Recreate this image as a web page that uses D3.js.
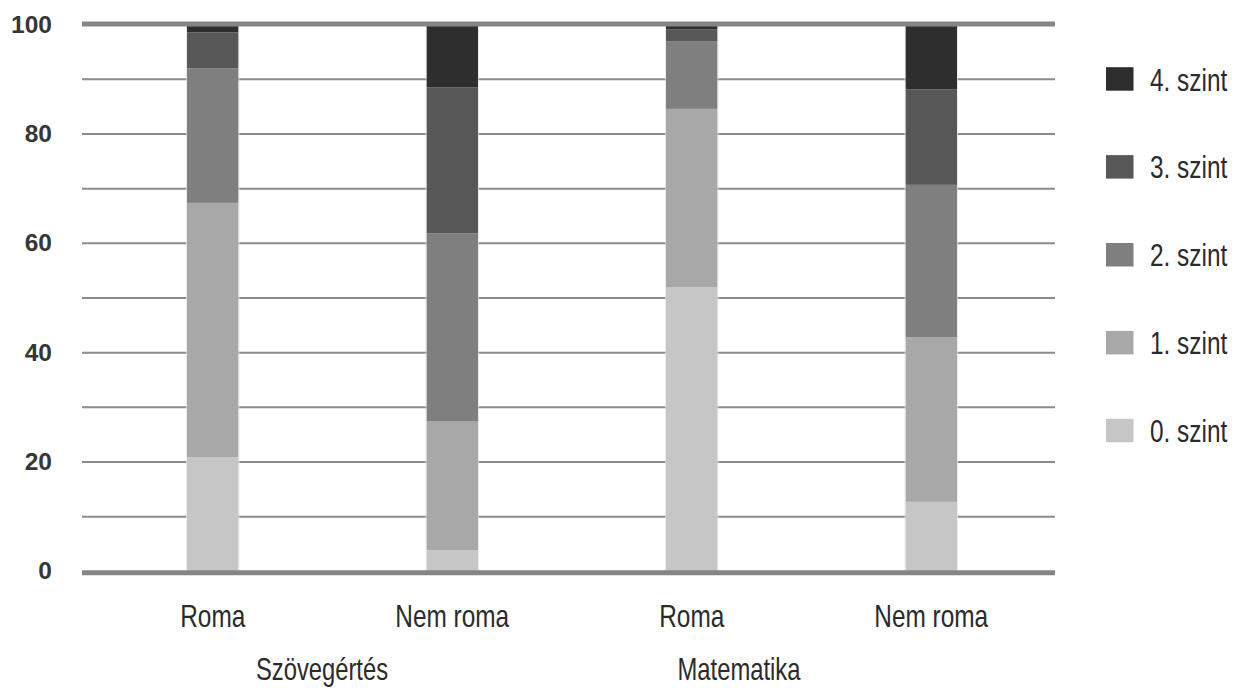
<!DOCTYPE html>
<html>
<head>
<meta charset="utf-8">
<script src="https://cdn.jsdelivr.net/npm/d3@7"></script>
<style>
  html, body { margin: 0; padding: 0; background: #ffffff; }
  svg { display: block; }
</style>
</head>
<body>
<svg id="chart" width="1234" height="688"></svg>
<script>
// Stacked shares (%) of proficiency levels by group and test area
const categories = ["Roma", "Nem roma", "Roma", "Nem roma"];
const groups = ["Szövegértés", "Matematika"];
const levels = ["0. szint", "1. szint", "2. szint", "3. szint", "4. szint"];
const level0 = [20.9, 3.9, 52.0, 12.7];
const level1 = [46.5, 23.5, 32.6, 30.1];
const level2 = [24.6, 34.4, 12.4, 27.9];
const level3 = [6.6, 26.7, 2.1, 17.5];
const level4 = [1.4, 11.5, 0.9, 11.8];
const yTicks = [0, 20, 40, 60, 80, 100];

const colors = ["#c6c6c6", "#a8a8a8", "#7f7f7f", "#575757", "#2e2e2e"];
const series = [level0, level1, level2, level3, level4];

const rows = categories.map((c, i) => {
  const r = { idx: i };
  levels.forEach((l, k) => { r[l] = series[k][i]; });
  return r;
});

const svg = d3.select("#chart");
const plotLeft = 82, plotRight = 1055;
const narrowFont = "'Liberation Sans Narrow', 'Arial Narrow', 'Liberation Sans', Arial, sans-serif";

const x = d3.scaleBand()
  .domain(d3.range(categories.length))
  .range([93, 1051])
  .paddingInner(0.785)
  .paddingOuter(0.3925);

const y = d3.scaleLinear().domain([0, 100]).range([571.3, 24.7]);

// gridlines every 10
const grid = svg.append("g");
grid.selectAll("line")
  .data(d3.range(10, 100, 10))
  .join("line")
  .attr("x1", plotLeft).attr("x2", plotRight)
  .attr("y1", d => y(d)).attr("y2", d => y(d))
  .attr("stroke", "#8c8c8c")
  .attr("stroke-width", 2);

// stacked bars
const stack = d3.stack().keys(levels)(rows);
svg.append("g")
  .selectAll("g")
  .data(stack)
  .join("g")
  .attr("fill", (d, k) => colors[k])
  .selectAll("rect")
  .data(d => d)
  .join("rect")
  .attr("x", d => x(d.data.idx))
  .attr("width", x.bandwidth())
  .attr("y", d => y(d[1]))
  .attr("height", d => y(d[0]) - y(d[1]));

// bar edges
svg.append("g")
  .selectAll("rect")
  .data(rows)
  .join("rect")
  .attr("x", d => x(d.idx) - 0.5)
  .attr("width", x.bandwidth() + 1)
  .attr("y", y(100))
  .attr("height", y(0) - y(100))
  .attr("fill", "none")
  .attr("stroke", "#e2e2e2")
  .attr("stroke-opacity", 0.7)
  .attr("stroke-width", 1);

// heavy top and base lines
svg.append("g")
  .selectAll("line")
  .data([0, 100])
  .join("line")
  .attr("x1", plotLeft).attr("x2", plotRight)
  .attr("y1", d => y(d) + (d === 0 ? 1.5 : -0.8))
  .attr("y2", d => y(d) + (d === 0 ? 1.5 : -0.8))
  .attr("stroke", "#858585")
  .attr("stroke-width", 5);

// y tick labels
svg.append("g")
  .selectAll("text")
  .data(yTicks)
  .join("text")
  .attr("x", 52)
  .attr("y", d => y(d) + 8)
  .attr("text-anchor", "end")
  .attr("font-family", "Liberation Sans, Arial, sans-serif")
  .attr("font-weight", "bold")
  .attr("font-size", 24.5)
  .attr("fill", "#363636")
  .text(d => d);

// category labels (horizontally condensed)
svg.append("g")
  .selectAll("text")
  .data(categories)
  .join("text")
  .attr("transform", (d, i) => `translate(${x(i) + x.bandwidth() / 2}, 626.5) scale(0.8, 1)`)
  .attr("text-anchor", "middle")
  .attr("font-family", narrowFont)
  .attr("font-size", 30.5)
  .attr("fill", "#2b2b2b")
  .text(d => d);

// group labels
const groupLabelX = [322, 739];
svg.append("g")
  .selectAll("text")
  .data(groups)
  .join("text")
  .attr("transform", (d, i) => `translate(${groupLabelX[i]}, 680) scale(0.78, 1)`)
  .attr("text-anchor", "middle")
  .attr("font-family", narrowFont)
  .attr("font-size", 30.5)
  .attr("fill", "#2b2b2b")
  .text(d => d);

// legend, top level first
const legendOrder = d3.range(levels.length).reverse();
const legend = svg.append("g")
  .selectAll("g")
  .data(legendOrder)
  .join("g")
  .attr("transform", (k, j) => `translate(1106, ${79 + j * 87.9})`);
legend.append("rect")
  .attr("x", 0).attr("y", -11.8)
  .attr("width", 27.5).attr("height", 23.5)
  .attr("fill", k => colors[k]);
legend.append("text")
  .attr("transform", "translate(44, 11.5) scale(0.8, 1)")
  .attr("font-family", narrowFont)
  .attr("font-size", 30.5)
  .attr("fill", "#2b2b2b")
  .text(k => levels[k]);
</script>
</body>
</html>
